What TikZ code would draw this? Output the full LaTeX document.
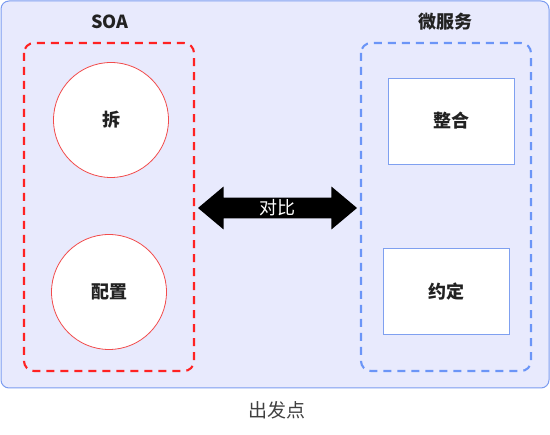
\documentclass[tikz,border=0pt]{standalone}
\usepackage{fontspec}
\setmainfont{Noto Sans CJK SC}
\usetikzlibrary{shapes.arrows}
\definecolor{bgfill}{HTML}{E8EAFD}
\definecolor{bgline}{HTML}{7B9CF0}
\definecolor{soared}{HTML}{FF2222}
\definecolor{msblue}{HTML}{6B95F7}
\definecolor{circred}{HTML}{F24C4C}
\definecolor{rectblue}{HTML}{7FA0F0}
\definecolor{txt}{HTML}{222222}
\begin{document}
\begin{tikzpicture}[x=1pt,y=-1pt,
  outer/.style={draw=bgline,fill=bgfill,line width=1pt,rounded corners=8pt},
  group/.style={line width=2.1pt,dash pattern=on 8pt off 6pt,rounded corners=10pt},
  ttl/.style={font=\fontsize{18}{20}\selectfont\bfseries,text=txt},
  circ/.style={circle,draw=circred,fill=white,line width=0.8pt,minimum size=115pt,font=\fontsize{18}{20}\selectfont\bfseries,text=txt},
  rbox/.style={rectangle,draw=rectblue,fill=white,line width=0.8pt,minimum width=126pt,minimum height=86pt,font=\fontsize{18}{20}\selectfont\bfseries,text=txt},
  cmp/.style={double arrow,fill=black,text=white,minimum height=159pt,inner ysep=2pt,inner xsep=2pt,double arrow head extend=11pt,double arrow tip angle=80,font=\fontsize{18}{20}\selectfont}
]
\useasboundingbox (0,0) rectangle (550,435);
\draw[outer] (1,1) rectangle (549,388);
\draw[group,draw=soared] (24,43) rectangle (194,371);
\draw[group,draw=msblue] (361,43) rectangle (531,371);
\node[ttl] (soa) at (110,22) {SOA};
\node[ttl] (ms) at (445,22) {微服务};
\node[circ] (chai) at (111,120) {拆};
\node[circ] (peizhi) at (109,292) {配置};
\node[rbox] (zhenghe) at (451,121) {整合};
\node[rbox] (yueding) at (446,291.5) {约定};
\node[cmp] (duibi) at (277.5,208) {对比};
\node[font=\fontsize{19}{21}\selectfont,text=black!75] (cfd) at (277,410) {出发点};
\end{tikzpicture}
\end{document}
